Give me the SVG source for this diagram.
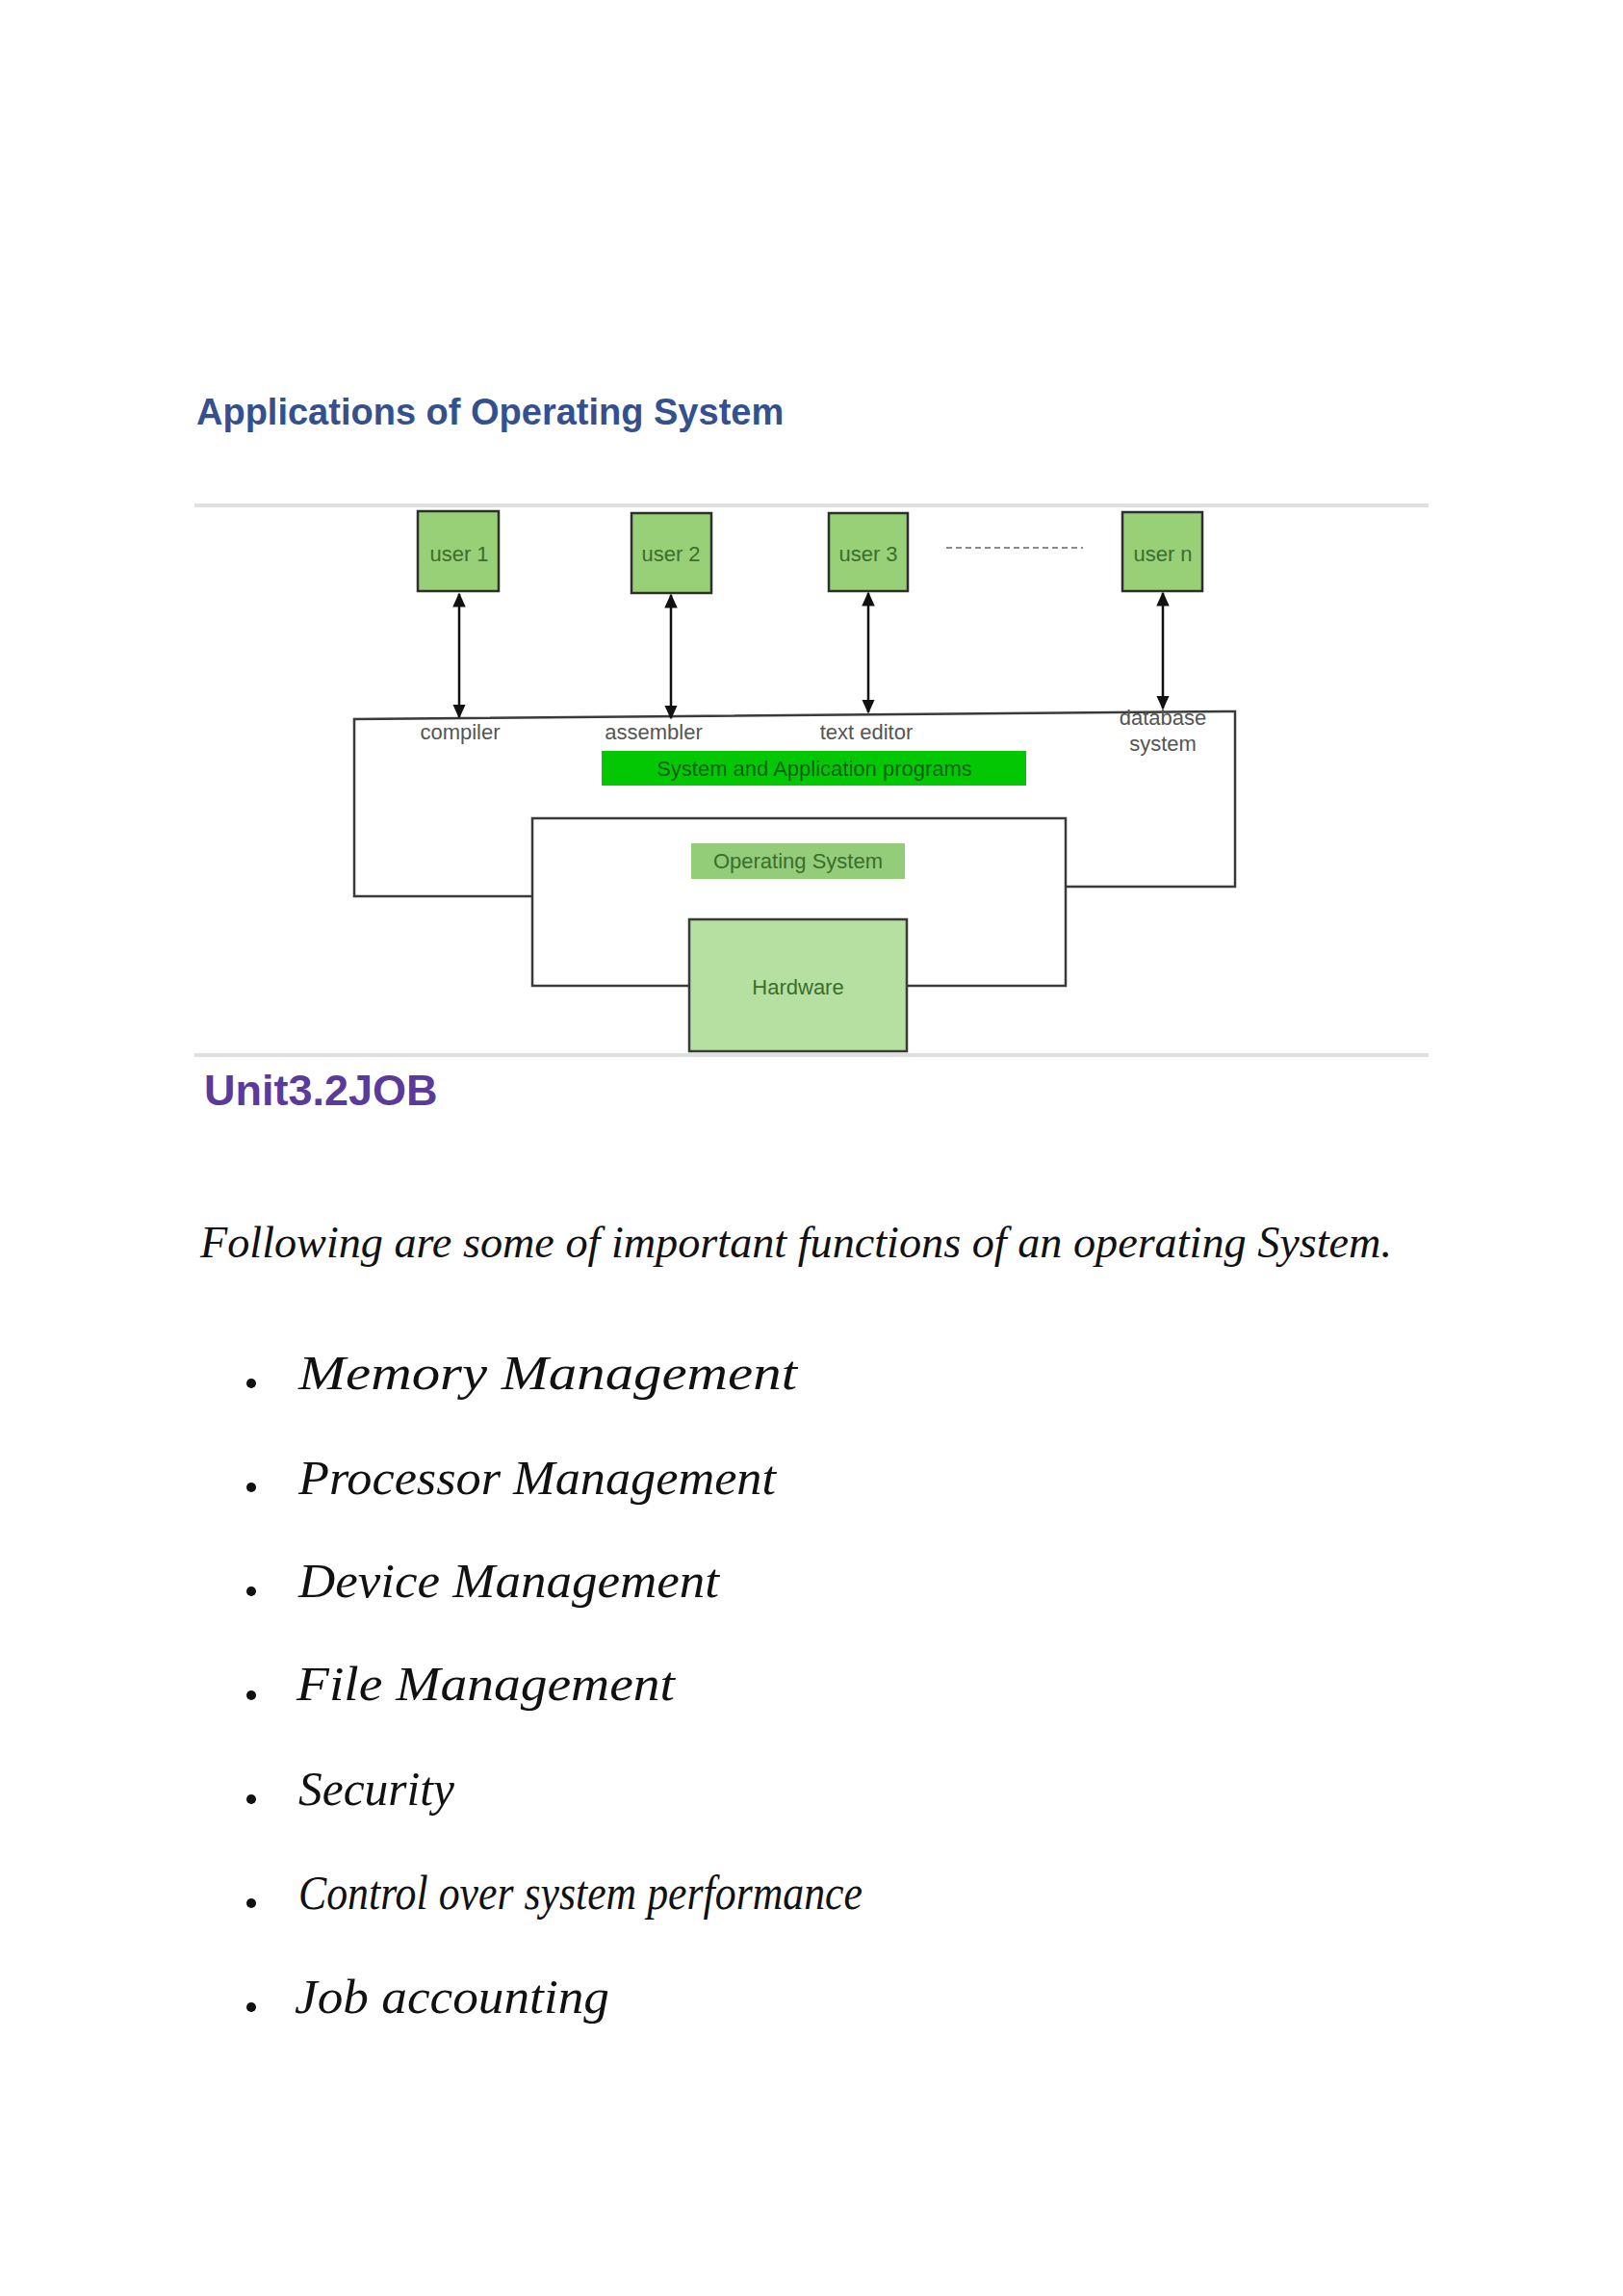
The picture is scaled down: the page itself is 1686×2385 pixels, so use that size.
<svg xmlns="http://www.w3.org/2000/svg" width="1686" height="2385" viewBox="0 0 1686 2385">
  <style>
    .heading { font-family: "Liberation Sans", Arial, sans-serif; font-weight: bold; }
    .user rect { fill: #97d077; stroke: #2e2e2e; stroke-width: 2.5; }
    .user text, .layer text { font-family: "Liberation Sans", Arial, sans-serif; font-size: 22px; fill: #3b6e2c; text-anchor: middle; }
    .label { font-family: "Liberation Sans", Arial, sans-serif; font-size: 22px; fill: #555555; text-anchor: middle; }
    .frame { fill: none; stroke: #3a3a3a; stroke-width: 2.5; }
    .link { stroke: #111111; stroke-width: 2.5; fill: none; marker-start: url(#head); marker-end: url(#head); }
    .rule { stroke: #e0e0e0; stroke-width: 4; }
    .script { font-family: "Liberation Serif", "Times New Roman", serif; font-style: italic; fill: #111111; }
  </style>
  <defs>
    <marker id="head" viewBox="0 0 10 10" refX="9" refY="5" markerWidth="6" markerHeight="6" orient="auto-start-reverse" markerUnits="strokeWidth">
      <path d="M0,0.5 L10,5 L0,9.5 z" fill="#111111"/>
    </marker>
    <filter id="soft" x="-5%" y="-20%" width="110%" height="140%">
      <feGaussianBlur stdDeviation="0.6"/>
    </filter>
  </defs>

  <rect width="1686" height="2385" fill="#ffffff"/>

  <!-- heading -->
  <text class="heading" x="204" y="441" font-size="38" fill="#34508f">Applications of Operating System</text>

  <!-- figure borders -->
  <line class="rule" x1="202" y1="525" x2="1484" y2="525"/>
  <line class="rule" x1="202" y1="1096" x2="1484" y2="1096"/>

  <!-- user nodes -->
  <g id="user1" class="user">
    <rect x="434" y="531" width="84" height="83"/>
    <text x="477" y="583">user 1</text>
  </g>
  <g id="user2" class="user">
    <rect x="656" y="533" width="83" height="83"/>
    <text x="697" y="583">user 2</text>
  </g>
  <g id="user3" class="user">
    <rect x="861" y="533" width="82" height="81"/>
    <text x="902" y="583">user 3</text>
  </g>
  <g id="usern" class="user">
    <rect x="1166" y="532" width="83" height="82"/>
    <text x="1208" y="583">user n</text>
  </g>
  <line x1="983" y1="569" x2="1125" y2="569" stroke="#8a8a8a" stroke-width="2" stroke-dasharray="6 4"/>

  <!-- application layer frame -->
  <g id="apps">
    <path class="frame" d="M553,931 L368,931 L368,747 L1283,739 L1283,921 L1107,921"/>
    <text class="label" x="478" y="768">compiler</text>
    <text class="label" x="679" y="768">assembler</text>
    <text class="label" x="900" y="768">text editor</text>
    <text class="label" x="1208" y="753">database</text>
    <text class="label" x="1208" y="780">system</text>
  </g>
  <g id="programs" class="layer">
    <rect x="625" y="780" width="441" height="36" fill="#03c703"/>
    <text x="846" y="806" filter="url(#soft)" style="fill:#0b5c0e">System and Application programs</text>
  </g>

  <!-- operating system frame -->
  <g id="os" class="layer">
    <rect class="frame" x="553" y="850" width="554" height="174"/>
    <rect x="718" y="876" width="222" height="37" fill="#93cd7a"/>
    <text x="829" y="902">Operating System</text>
  </g>

  <!-- hardware -->
  <g id="hardware" class="layer">
    <rect x="716" y="955" width="226" height="137" fill="#b5e0a2" stroke="#3a3a3a" stroke-width="2.5"/>
    <text x="829" y="1033">Hardware</text>
  </g>

  <!-- user links -->
  <g id="connectors">
    <line class="link" x1="477" y1="617" x2="477" y2="745"/>
    <line class="link" x1="697" y1="618" x2="697" y2="746"/>
    <line class="link" x1="902" y1="616" x2="902" y2="740"/>
    <line class="link" x1="1208" y1="616" x2="1208" y2="736"/>
  </g>

  <!-- section heading -->
  <text class="heading" x="212" y="1148" font-size="45" fill="#5b3a9c">Unit3.2JOB</text>

  <!-- functions list -->
  <text class="script" x="208" y="1306" font-size="46" textLength="1238" lengthAdjust="spacingAndGlyphs">Following are some of important functions of an operating System.</text>

  <g fill="#111111">
    <circle cx="261" cy="1437" r="5"/>
    <circle cx="261" cy="1545" r="5"/>
    <circle cx="261" cy="1653" r="5"/>
    <circle cx="261" cy="1761" r="5"/>
    <circle cx="261" cy="1869" r="5"/>
    <circle cx="261" cy="1977" r="5"/>
    <circle cx="261" cy="2085" r="5"/>
  </g>
  <g class="script" font-size="50">
    <text x="310" y="1443" textLength="518" lengthAdjust="spacingAndGlyphs">Memory Management</text>
    <text x="310" y="1552" textLength="496" lengthAdjust="spacingAndGlyphs">Processor Management</text>
    <text x="310" y="1659" textLength="437" lengthAdjust="spacingAndGlyphs">Device Management</text>
    <text x="308" y="1766" textLength="393" lengthAdjust="spacingAndGlyphs">File Management</text>
    <text x="310" y="1875" textLength="162" lengthAdjust="spacingAndGlyphs">Security</text>
    <text x="310" y="1983" textLength="586" lengthAdjust="spacingAndGlyphs">Control over system performance</text>
    <text x="306" y="2091" textLength="327" lengthAdjust="spacingAndGlyphs">Job accounting</text>
  </g>
</svg>
